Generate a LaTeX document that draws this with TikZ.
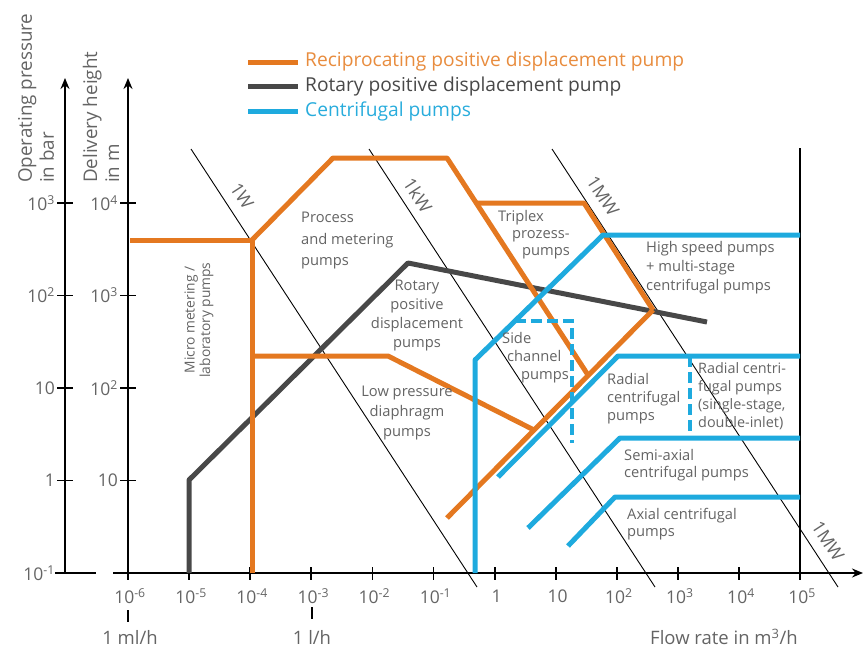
\documentclass[tikz,border=0pt]{standalone}
\usepackage{fontspec}
\setmainfont{Open Sans}
\usetikzlibrary{arrows.meta}
\definecolor{orng}{RGB}{228,120,32}
\definecolor{orngtxt}{RGB}{232,140,62}
\definecolor{gry}{RGB}{72,72,72}
\definecolor{blu}{RGB}{30,170,222}
\definecolor{blutxt}{RGB}{40,172,220}
\definecolor{txt}{RGB}{100,100,100}
\tikzset{
  axis/.style={draw=black, line width=1.6pt},
  tickmark/.style={draw=black, line width=1.8pt},
  powerline/.style={draw=black, line width=0.9pt},
  recip/.style={draw=orng, line width=5pt, line join=round},
  rotary/.style={draw=gry, line width=5pt, line join=round},
  centri/.style={draw=blu, line width=5pt, line join=round},
  centridash/.style={draw=blu, line width=4.5pt, dash pattern=on 11pt off 5pt},
  lbl/.style={text=txt, font=\fontsize{14.7}{19}\selectfont, inner sep=0pt},
  ticklbl/.style={text=txt, font=\fontsize{17.5}{20}\selectfont, inner sep=0pt},
  bottomlbl/.style={text=txt, font=\fontsize{18.5}{22}\selectfont, inner sep=0pt},
  powlbl/.style={text=txt, font=\fontsize{18}{20}\selectfont, inner sep=0pt, rotate=-57},
  leg/.style={font=\fontsize{19.2}{22}\selectfont, inner sep=0pt, anchor=west},
}
\begin{document}
\begin{tikzpicture}[x=1pt,y=-1pt]
\useasboundingbox (0,0) rectangle (863,651);

% power lines
\coordinate (w1a) at (191,149); \coordinate (w1b) at (477,587);
\coordinate (kwa) at (369,149); \coordinate (kwb) at (655,587);
\coordinate (mwa) at (552,149); \coordinate (mwb) at (838,587);
\draw[powerline] (w1a) -- (w1b);
\draw[powerline] (kwa) -- (kwb);
\draw[powerline] (mwa) -- (mwb);
\node[powlbl] (l1w) at (242,196) {1W};
\node[powlbl] (l1kw) at (418,195) {1kW};
\node[powlbl] (l1mw) at (603,196) {1MW};
\node[powlbl] (l1mwb) at (828,541) {1MW};

% right boundary
\coordinate (rbt) at (800,148); \coordinate (rbb) at (800,573);
\draw[axis, line width=1.8pt] (rbt) -- (rbb);

% axes
\coordinate (ya0) at (65,573); \coordinate (ya1) at (65,78);
\coordinate (yb0) at (128,573); \coordinate (yb1) at (128,78);
\coordinate (xa0) at (55,573); \coordinate (xa1) at (96,573);
\coordinate (xb0) at (113,573); \coordinate (xb1) at (863,573);
\draw[axis, -{Stealth[length=11pt,width=9pt]}] (ya0) -- (ya1);
\draw[axis, -{Stealth[length=11pt,width=9pt]}] (yb0) -- (yb1);
\draw[axis] (xa0) -- (xa1);
\draw[axis, -{Stealth[length=11pt,width=9pt]}] (xb0) -- (xb1);

% y ticks
\foreach \yy/\la/\lb in {203/10\textsuperscript{3}/10\textsuperscript{4},
                         295.5/10\textsuperscript{2}/10\textsuperscript{3},
                         388/10/10\textsuperscript{2},
                         480.5/1/10} {
  \draw[tickmark] (57,\yy) -- (73,\yy);
  \draw[tickmark] (120,\yy) -- (136,\yy);
  \node[ticklbl, anchor=east] at (55,\yy) {\la};
  \node[ticklbl, anchor=east] at (118,\yy) {\lb};
}
\draw[tickmark] (57,573) -- (73,573);
\node[ticklbl, anchor=east] (ym1) at (55,573) {10\textsuperscript{-1}};

% x ticks
\foreach \k/\lab in {0/10\textsuperscript{-6},1/10\textsuperscript{-5},2/10\textsuperscript{-4},
   3/10\textsuperscript{-3},4/10\textsuperscript{-2},5/10\textsuperscript{-1},6/1,7/10,
   8/10\textsuperscript{2},9/10\textsuperscript{3},10/10\textsuperscript{4},11/10\textsuperscript{5}} {
  \draw[tickmark] ({128+61.1*\k},567) -- ({128+61.1*\k},580);
  \node[ticklbl] at ({128+61.1*\k+2},596) {\lab};
}
\coordinate (mla) at (128,610); \coordinate (mlb) at (128,622);
\coordinate (lha) at (312,607); \coordinate (lhb) at (312,619);
\draw[tickmark, line width=2.5pt] (mla) -- (mlb);
\draw[tickmark, line width=2.5pt] (lha) -- (lhb);
\node[bottomlbl] (ml) at (130,637) {1 ml/h};
\node[bottomlbl] (lh) at (312,637) {1 l/h};
\node[bottomlbl] (flow) at (724,637) {Flow rate in m\textsuperscript{3}/h};

% axis titles
\node[ticklbl, font=\fontsize{18.8}{22}\selectfont, rotate=90, anchor=west, align=left] (yt1) at (36,183) {Operating pressure\\in bar};
\node[ticklbl, font=\fontsize{18.8}{22}\selectfont, rotate=90, anchor=west, align=left] (yt2) at (101,183) {Delivery height\\in m};

% legend
\draw[recip] (248,62) -- (298,62);
\draw[rotary] (248,86.5) -- (298,86.5);
\draw[centri] (248,111) -- (298,111);
\node[leg, text=orngtxt] (lg1) at (305,62) {Reciprocating positive displacement pump};
\node[leg, text=gry] (lg2) at (305,86.5) {Rotary positive displacement pump};
\node[leg, text=blutxt] (lg3) at (305,111) {Centrifugal pumps};

% rotary positive displacement
\draw[rotary] (189,573) -- (189,480) -- (408,263) -- (707,322);

% reciprocating
\draw[recip] (130,240) -- (252,240);
\draw[recip] (252,240) -- (252,573);
\draw[recip] (252,240) -- (333,158) -- (447,158) -- (588,375);
\draw[recip] (477,203) -- (584,203) -- (653,310);
\draw[recip] (447,518) -- (653,310);
\draw[recip] (252,356) -- (388,356) -- (534,430);

% centrifugal
\draw[centri] (475,573) -- (475,360) -- (603,235) -- (800,235);
\draw[centridash] (515,321) -- (572,321) -- (572,443);
\draw[centri] (498,477) -- (618,356) -- (800,356);
\draw[centridash] (690,356) -- (690,437);
\draw[centri] (528,528) -- (620,438) -- (800,438);
\draw[centri] (568,546) -- (615,497) -- (800,497);

% region labels
\node[lbl, anchor=west, align=left, font=\fontsize{14.7}{21.5}\selectfont] (proc) at (301,241) {Process\\and metering\\pumps};
\node[lbl, align=center] (rot) at (417,316) {Rotary\\positive\\displacement\\pumps};
\node[lbl, align=center, font=\fontsize{14.7}{20}\selectfont] (lowp) at (407,413) {Low pressure\\diaphragm\\pumps};
\node[lbl, anchor=west, align=left, font=\fontsize{14.7}{17}\selectfont] (trip) at (498,235) {Triplex\\\hspace*{14pt}prozess-\\\hspace*{24pt}pumps};
\node[lbl, anchor=west, align=left] (hs) at (646,268) {High speed pumps\\+ multi-stage\\centrifugal pumps};
\node[lbl, anchor=west, align=left, font=\fontsize{14.7}{18}\selectfont] (side) at (502,358) {Side\\\hspace*{5pt}channel\\\hspace*{19pt}pumps};
\node[lbl, anchor=west, align=left, font=\fontsize{14.7}{18}\selectfont] (rad) at (607,399) {Radial\\centrifugal\\pumps};
\node[lbl, anchor=west, align=left, font=\fontsize{14.4}{18}\selectfont] (rad2) at (698,396) {Radial centri-\\fugal pumps\\(single-stage,\\double-inlet)};
\node[lbl, anchor=west, align=left, font=\fontsize{14.7}{17}\selectfont] (semi) at (624,465) {Semi-axial\\centrifugal pumps};
\node[lbl, anchor=west, align=left, font=\fontsize{14.7}{17}\selectfont] (axial) at (627,524) {Axial centrifugal\\pumps};
\node[lbl, rotate=90, align=center, font=\fontsize{13.8}{15.5}\selectfont] (micro) at (199,320) {Micro metering /\\laboratory pumps};
\end{tikzpicture}
\end{document}
